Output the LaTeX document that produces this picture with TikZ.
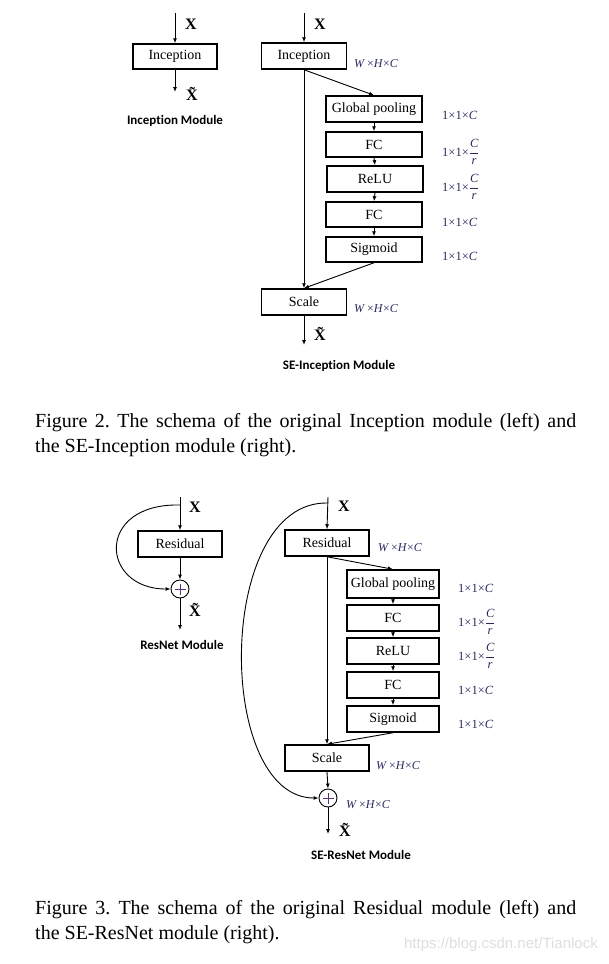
\documentclass[tikz,border=0pt]{standalone}
\usepackage{fontspec}
\setmainfont{Liberation Serif}
\newfontfamily\labfont[Ligatures=NoCommon]{Carlito}
\newfontfamily\wmfont{Liberation Sans}
\usetikzlibrary{arrows.meta}
\definecolor{navy}{RGB}{40,42,95}
\definecolor{plusc}{RGB}{90,50,120}
\definecolor{wmc}{RGB}{222,222,222}
\newcommand{\onec}{1×1×\textit{C}}
\newcommand{\onefr}{1×1×$\displaystyle\frac{\textit{C}}{\textit{r}}$}
\newcommand{\whc}{\textit{W}\,×\textit{H}×\textit{C}}
\frenchspacing
\begin{document}
\begin{tikzpicture}[x=1pt,y=-1pt,
 blk/.style={draw, line width=1.5pt, inner sep=0pt, font=\fontsize{14}{14}\selectfont},
 arr/.style={line width=0.9pt, -{Latex[length=5pt,width=4pt]}},
 xl/.style={font=\fontsize{16}{16}\selectfont\bfseries, inner sep=0pt},
 dimlab/.style={font=\fontsize{12}{12}\selectfont, text=navy, inner sep=0pt},
 onelab/.style={font=\fontsize{12.5}{12.5}\selectfont, text=navy, inner sep=0pt, anchor=west},
 modl/.style={font=\labfont\fontsize{13}{13}\selectfont\bfseries, inner sep=0pt},
 captxt/.style={font=\fontsize{20}{20}\selectfont, inner sep=0pt, anchor=west},
 sumc/.style={draw, circle, line width=0.9pt, minimum size=18pt, inner sep=0pt,
   path picture={\draw[plusc, line width=0.7pt]
     ([xshift=-5.5pt]path picture bounding box.center) -- ([xshift=5.5pt]path picture bounding box.center)
     ([yshift=-5.5pt]path picture bounding box.center) -- ([yshift=5.5pt]path picture bounding box.center);}},
]
\useasboundingbox (0,0) rectangle (608,964);

% ---------- Inception module (left) ----------
\coordinate (a0) at (175,13);
\node[blk, minimum width=84pt, minimum height=25pt] (inc1) at (175,56.5) {Inception};
\coordinate (a1) at (175,92);
\draw[arr] (a0) -- (inc1.north);
\draw[arr] (inc1.south) -- (a1);
\node[xl] (ax) at (191,24) {X};
\node[xl] (axt) at (192,94) {\~X};
\node[modl] (m1) at (175,121) {Inception Module};

% ---------- SE-Inception module ----------
\coordinate (b0) at (304,13);
\node[blk, minimum width=85pt, minimum height=26pt] (inc2) at (304,56) {Inception};
\node[blk, minimum width=96pt, minimum height=26pt] (gp1) at (374,109) {Global pooling};
\node[blk, minimum width=96pt, minimum height=25pt] (fc1) at (374,144.5) {FC};
\node[blk, minimum width=96pt, minimum height=26pt] (re1) at (375,179) {ReLU};
\node[blk, minimum width=96pt, minimum height=25pt] (fc1b) at (374,214.5) {FC};
\node[blk, minimum width=96pt, minimum height=25pt] (sg1) at (374,249.5) {Sigmoid};
\node[blk, minimum width=85pt, minimum height=26pt] (sc1) at (304,302) {Scale};
\coordinate (b1) at (304,345);
\draw[arr] (b0) -- (inc2.north);
\draw[arr] (inc2.south) -- (gp1.north);
\draw[arr] (inc2.south) -- (sc1.north);
\draw[arr] (gp1.south) -- (fc1.north);
\draw[arr] (fc1.south) -- (re1.north);
\draw[arr] (re1.south) -- (fc1b.north);
\draw[arr] (fc1b.south) -- (sg1.north);
\draw[arr] (sg1.south) -- (sc1.north);
\draw[arr] (sc1.south) -- (b1);
\node[xl] (bx) at (320,24) {X};
\node[xl] (bxt) at (320,334) {\~X};
\node[dimlab] (bd1) at (376,64) {\whc};
\node[dimlab] (bd2) at (376,309) {\whc};
\node[onelab] (bo1) at (442,115) {\onec};
\node[onelab] (bo2) at (442,152) {\onefr};
\node[onelab] (bo3) at (442,187) {\onefr};
\node[onelab] (bo4) at (442,222) {\onec};
\node[onelab] (bo5) at (442,256) {\onec};
\node[modl] (m2) at (339,366) {SE-Inception Module};

% ---------- caption 2 ----------
\node[captxt] (cap1a) at (35,423) {\makebox[541pt][s]{Figure 2. The schema of the original Inception module (left) and}};
\node[captxt] (cap1b) at (35,448) {the SE-Inception module (right).};

% ---------- ResNet module (left) ----------
\coordinate (c0) at (180,497);
\coordinate (c1) at (180,505);
\node[blk, minimum width=84pt, minimum height=26pt] (res1) at (180,544) {Residual};
\node[sumc] (s1) at (180,589) {};
\coordinate (c2) at (180,630);
\draw[arr] (c0) -- (res1.north);
\draw[arr] (res1.south) -- (s1.north);
\draw[arr] (c1) .. controls (95,503) and (100,589) .. (s1.west);
\draw[arr] (s1.south) -- (c2);
\node[xl] (cx) at (195,507) {X};
\node[xl] (cxt) at (195,610) {\~X};
\node[modl] (m3) at (182,645) {ResNet Module};

% ---------- SE-ResNet module ----------
\coordinate (d0) at (328,497);
\coordinate (d2) at (328,503);
\node[blk, minimum width=84pt, minimum height=26pt] (res2) at (327,543) {Residual};
\node[blk, minimum width=92pt, minimum height=28pt] (gp2) at (393,584) {Global pooling};
\node[blk, minimum width=92pt, minimum height=26pt] (fc2) at (393,618) {FC};
\node[blk, minimum width=92pt, minimum height=26pt] (re2) at (393,651) {ReLU};
\node[blk, minimum width=92pt, minimum height=26pt] (fc2b) at (393,685) {FC};
\node[blk, minimum width=92pt, minimum height=26pt] (sg2) at (393,719) {Sigmoid};
\node[blk, minimum width=84pt, minimum height=26pt] (sc2) at (327,758) {Scale};
\node[sumc] (s2) at (328,798) {};
\coordinate (d1) at (328,834);
\draw[arr] (d0) -- (res2.north);
\draw[arr] (res2.south) -- (gp2.north);
\draw[arr] (res2.south) -- (sc2.north);
\draw[arr] (gp2.south) -- (fc2.north);
\draw[arr] (fc2.south) -- (re2.north);
\draw[arr] (re2.south) -- (fc2b.north);
\draw[arr] (fc2b.south) -- (sg2.north);
\draw[arr] (sg2.south) -- (sc2.north);
\draw[arr] (sc2.south) -- (s2.north);
\draw[arr] (d2) .. controls (215,500) and (215,798) .. (s2.west);
\draw[arr] (s2.south) -- (d1);
\node[xl] (dx) at (344,506) {X};
\node[xl] (dxt) at (345,830) {\~X};
\node[dimlab] (dd1) at (400,548) {\whc};
\node[dimlab] (dd2) at (398,766) {\whc};
\node[dimlab] (dd3) at (368,805) {\whc};
\node[onelab] (do1) at (458,588) {\onec};
\node[onelab] (do2) at (458,622) {\onefr};
\node[onelab] (do3) at (458,656) {\onefr};
\node[onelab] (do4) at (458,690) {\onec};
\node[onelab] (do5) at (458,724) {\onec};
\node[modl] (m4) at (361,855) {SE-ResNet Module};

% ---------- caption 3 ----------
\node[captxt] (cap2a) at (35,910) {\makebox[541pt][s]{Figure 3. The schema of the original Residual module (left) and}};
\node[captxt] (cap2b) at (35,935) {the SE-ResNet module (right).};
\node[font=\wmfont\fontsize{15}{15}\selectfont, text=wmc, inner sep=0pt, anchor=east] (wm) at (598,945) {https://blog.csdn.net/Tianlock};
\end{tikzpicture}
\end{document}
